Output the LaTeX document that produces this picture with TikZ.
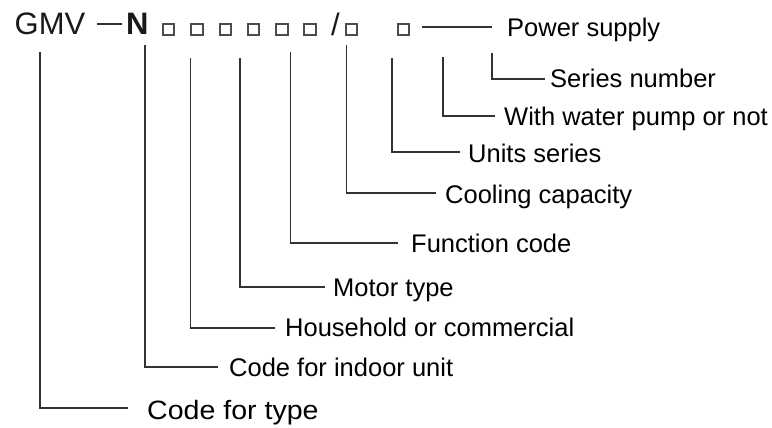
\documentclass[tikz,border=0pt]{standalone}
\usepackage{fontspec}
\setmainfont{Liberation Sans}
\begin{document}
\begin{tikzpicture}[x=1pt,y=-1pt,
  lbl/.style={inner sep=0pt, anchor=base west, font=\fontsize{25.5}{28}\selectfont, text=black},
  big/.style={inner sep=0pt, anchor=base west, font=\fontsize{31}{34}\selectfont, text=black!90},
  sq/.style={draw=black!70, line width=1.8pt, minimum width=11.5pt, minimum height=11.5pt, inner sep=0pt},
  conn/.style={draw=black!80, line width=1.8pt, line cap=butt, line join=miter}]
\useasboundingbox (0,0) rectangle (772,428);
% header
\node[big] (gmv) at (14.5,35) {GMV};
\coordinate (d1) at (97,24);
\coordinate (d2) at (122,24);
\draw[conn] (d1) -- (d2);
\node[big, font=\fontsize{31}{34}\selectfont\bfseries] (n) at (126,35) {N};
\node[sq] (s1) at (168.5,29.5) {};
\node[sq] (s2) at (197,29.5) {};
\node[sq] (s3) at (225.5,29.5) {};
\node[sq] (s4) at (253.5,29.5) {};
\node[sq] (s5) at (282,29.5) {};
\node[sq] (s6) at (310,29.5) {};
\node[big] (sl) at (331,36) {/};
\node[sq] (s7) at (351.5,29.5) {};
\node[sq] (s8) at (403.5,29.5) {};
% power supply
\coordinate (p1) at (422,27);
\coordinate (p2) at (492,27);
\draw[conn] (p1) -- (p2);
\node[lbl] (l10) at (507,37) {Power supply};
% branches
\coordinate (t9) at (492,53);  \coordinate (e9) at (545,79);
\node[lbl] (l9) at (550,88) {Series number};
\coordinate (t8) at (443,57);  \coordinate (e8) at (495,116);
\node[lbl] (l8) at (504,125) {With water pump or not};
\coordinate (t7) at (392,58);  \coordinate (e7) at (460,152);
\node[lbl] (l7) at (468,162) {Units series};
\coordinate (t6) at (346.5,45);  \coordinate (e6) at (436,193);
\node[lbl] (l6) at (445,203) {Cooling capacity};
\coordinate (t5) at (290.5,52);  \coordinate (e5) at (398,243);
\node[lbl] (l5) at (411,252) {Function code};
\coordinate (t4) at (240,58);  \coordinate (e4) at (325,287);
\node[lbl] (l4) at (333,296) {Motor type};
\coordinate (t3) at (190.5,58);  \coordinate (e3) at (275,328);
\node[lbl] (l3) at (285,336) {Household or commercial};
\coordinate (t2) at (145,45);  \coordinate (e2) at (218,367);
\node[lbl] (l2) at (229,376) {Code for indoor unit};
\coordinate (t1) at (40,52);  \coordinate (e1) at (128,408);
\node[lbl] (l1) at (147,419) {\scalebox{1.12}[1.04]{Code for type}};
\foreach \i in {1,...,9} {\draw[conn] (t\i) |- (e\i);}
\end{tikzpicture}
\end{document}
